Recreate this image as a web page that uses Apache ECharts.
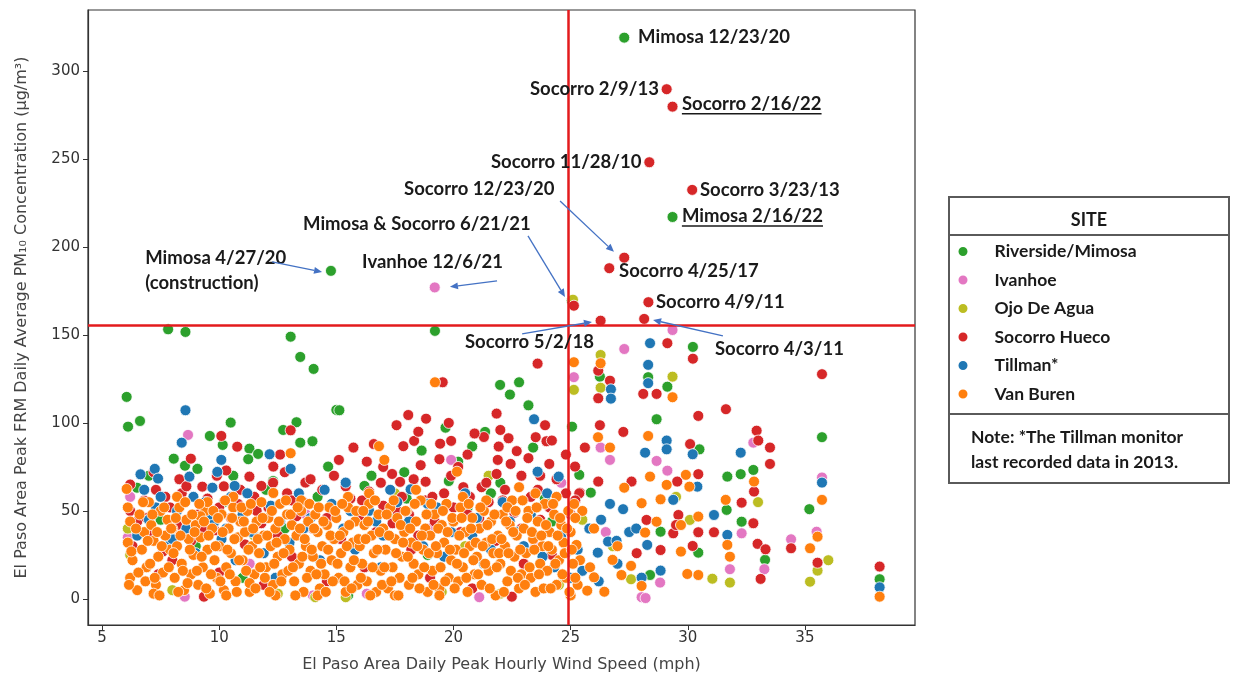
<!DOCTYPE html>
<html><head><meta charset="utf-8">
<script src="https://cdn.jsdelivr.net/npm/echarts@6/dist/echarts.min.js"></script>
<style>html,body{margin:0;padding:0;background:#fff}#c{width:1233px;height:685px}</style>
</head><body><div id="c"></div><script>
// ---------- DATA (wind speed mph, PM10 ug/m3) ----------
const siteNames = ['Riverside/Mimosa','Ivanhoe','Ojo De Agua','Socorro Hueco','Tillman*','Van Buren'];
const xTicks = [5,10,15,20,25,30,35];
const yTicks = [0,50,100,150,200,250,300];
const windThreshold = 24.9;
const pmThreshold = 155.7;

const mimosa = [
[27.29,318.9],[29.35,217],[25.05,169.5],[14.77,186.4],[7.82,153.2],[8.56,151.7],[13.05,149],[19.21,152.3],[13.46,137.5],[14.03,130.7],
[6.05,114.8],[6.11,97.9],[6.62,101.1],[10.49,100.2],[15.0,107.4],[13.3,100.4],[12.73,96],[9.6,92.6],[10.15,87.5],[11.29,85.4],
[11.66,82.4],[13.46,88.8],[13.98,89.6],[8.06,79.7],[11.24,79.4],[14.65,75.2],[8.54,75.7],[9.07,73.9],[6.49,63.2],[12.3,67],
[21.99,121.6],[22.8,123.1],[22.41,116.1],[15.13,107.2],[23.2,110],[19.66,97.3],[21.35,94.9],[18.64,84.3],[20.8,86.6],[23.4,86],
[16.2,64.2],[30.22,143.2],[26.25,126.3],[28.31,126],[29.13,120.6],[28.67,102.1],[25.06,97.9],[35.73,91.9],[30.5,85],[25.37,70.5],
[31.69,69.5],[32.26,70.9],[32.8,73.3],[25.86,60.4],[35.19,51],[38.19,11.2],[33.3,22.2],[32.3,43.9],[31.66,50.6],[30.45,26.3],
[28.84,38.2],[28.39,13.6],[7.5,45],[10.2,55],[12.8,40],[14.2,58],[15.5,2],[17.3,48],[18.9,25],[20.6,52],
[24.2,44],[11.0,12],[9.0,30],[22.0,66],[16.5,70],[19.8,67],[23.9,57],[12.0,62],[7.0,70],[17.9,72],
[20.2,78],[10.6,70],[21.6,60],[18.0,57]
];
const ivanhoe = [
[19.2,177],[29.35,152.8],[27.29,142],[25.14,126],[26.28,86],[26.68,79],[28.67,78.4],[29.13,72.9],[32.8,88.8],[19.9,79],
[8.67,93.2],[35.5,38.2],[34.41,33.9],[33.27,16.9],[31.8,16.9],[32.3,37.3],[28.82,9.3],[28.03,1],[8.53,1.3],[21.1,1],
[28.2,0.5],[6.2,58],[6.1,35],[11.3,20],[16.3,3],[23.5,30],[26.5,38],[30.1,45],[19.0,40],[13.7,48],
[35.73,69],[14.0,2],[24.6,66]
];
const ojoDeAgua = [
[26.28,138.6],[25.14,118.8],[26.28,120],[29.35,126.3],[30.09,44.9],[31.05,11.5],[31.8,9.3],[35.22,9.8],[35.54,16.1],[27.58,11.2],
[14.1,1],[15.4,1],[6.1,40],[6.2,25],[8.0,5],[12.5,3],[19.5,4],[22.0,3],[24.5,8],[26.8,30],
[25.5,45],[17.5,60],[21.5,70],[29.5,58],[33.0,55],[36.0,22],[11.5,36],[20.5,30],[25.1,170]
];
const socorro = [
[29.1,289.6],[29.35,279.7],[28.36,248.1],[30.19,232.4],[27.29,193.9],[26.65,187.9],[28.32,168.6],[26.28,158.1],[28.14,159.1],[25.14,166.6],
[23.59,133.7],[19.54,123.1],[29.13,145.3],[30.22,136.5],[35.73,127.7],[26.18,129.7],[26.18,114],[26.68,124],[28.1,116.5],[28.67,116.5],
[31.63,107.8],[30.45,104],[26.25,98.7],[27.25,94.9],[32.94,95.6],[33.01,90],[33.51,86],[33.51,76.7],[25.61,86],[30.1,88],
[25.19,75.2],[26.18,66.7],[30.45,70.9],[32.83,61],[25.4,60.4],[27.6,66.7],[29.55,66.7],[38.19,18.4],[35.54,20.6],[34.41,28.8],
[32.98,31.3],[33.32,28.2],[33.11,11.4],[32.8,43],[32.3,54.7],[31.12,37.9],[30.45,37.9],[30.21,30.1],[29.38,37.3],[28.84,27.8],
[28.24,44.9],[27.82,26],[29.6,47.7],[29.5,42],[25.37,60],
[13.05,95.8],[10.09,92.6],[10.77,86.5],[8.79,79.7],[12.31,75.2],[11.29,69.5],[13.68,66.1],[9.28,63.8],[11.8,64.2],[18.07,104.5],
[18.83,102.4],[17.57,98.7],[21.84,105.3],[23.91,98.7],[22.35,91.3],[23.51,91.9],[23.97,89.6],[18.32,89.8],[17.86,86.8],[19.9,89.8],
[19.43,88.2],[15.73,86],[21.93,86.6],[15.11,79],[18.6,76],[19.4,79.4],[21.89,79],[22.44,76.7],[24.09,76.7],[17.38,71],
[21.84,71],[17.72,66.5],[18.81,66.6],[20.42,63.5],[21.2,63.5],[9.35,1.3],[22.49,1.3],
[6.2,50],[6.3,30],[6.5,44],[6.8,56],[7.1,38],[7.3,62],[7.6,27],[7.9,52],[8.2,42],[8.4,60],
[8.8,33],[9.1,48],[9.5,57],[9.8,39],[10.2,64],[10.5,46],[10.8,54],[11.1,31],[11.5,58],[11.8,43],
[12.1,52],[12.5,36],[12.9,60],[13.3,47],[13.6,55],[14.0,40],[14.4,62],[14.8,50],[15.2,34],[15.6,57],
[16.0,45],[16.4,61],[16.7,38],[17.0,53],[17.4,43],[17.8,58],[18.1,48],[18.5,36],[18.8,56],[19.2,44],
[19.6,60],[20.0,52],[20.3,38],[20.7,58],[21.1,46],[21.5,55],[21.8,33],[22.2,62],[22.6,49],[22.9,40],
[23.3,58],[23.7,45],[24.1,52],[24.5,36],[24.8,60],[25.0,48],[13.1,24],[16.2,18],[19.0,12],[23.0,20],
[10.0,15],[8.0,22],[11.9,8],[20.8,6],[14.6,10],[7.4,14],[18.2,28],[24.2,25],
[18.5,95],[19.8,100],[20.6,82],[21.3,92],[22.7,84],[23.2,80],[17.0,75],[16.3,78],[14.9,70],[12.8,72],
[10.3,73],[9.9,70],[8.3,68],[7.2,72],[6.2,65],[23.7,70],[24.8,82],[22.0,96],[20.2,75],
[6.9,46],[7.7,58],[8.6,64],[9.3,40],[10.0,52],[10.9,62],[11.6,50],[12.3,66],[13.1,56],[13.9,68],
[14.6,46],[15.4,64],[16.1,56],[16.9,66],[17.6,50],[18.3,68],[19.1,58],[19.9,70],[20.6,48],[21.4,66],
[22.1,56],[22.9,70],[23.6,62],[24.4,68],[25.2,56],[12.6,82],[16.6,88],[20.9,94],[24.2,90]
];
const tillman = [
[8.56,107.2],[8.4,88.8],[12.15,82.2],[10.09,79],[13.05,73.9],[7.25,73.9],[6.64,70.8],[7.39,68.4],[9.92,72.2],[8.73,69.5],
[10.66,64.2],[9.71,63.2],[23.44,102.1],[23.59,72.3],[24.49,69.5],[15.4,66.1],[18.17,62.3],[28.39,145.3],[28.31,133],[28.31,122.6],
[26.72,119.1],[26.72,113.8],[29.1,90],[29.1,85],[28.18,83.1],[30.21,82.2],[32.26,83.1],[35.73,66.1],[30.41,63.8],[38.19,6.6],
[31.69,36.4],[31.12,47.7],[29.38,56.3],[28.84,16.1],[28.03,12.1],[26.16,26.3],[26.6,32.6],[27.24,51],[26.68,54],[28.27,30.7],
[26.96,33],
[6.5,36],[7.0,45],[7.5,58],[7.8,30],[8.2,50],[8.6,40],[9.0,26],[9.4,55],[9.8,44],[10.1,34],
[10.5,58],[11.0,48],[11.4,38],[11.9,26],[12.2,53],[12.6,44],[13.0,32],[13.4,60],[13.9,46],[14.3,22],
[14.8,54],[15.3,40],[15.8,28],[16.4,50],[17.0,36],[17.6,55],[18.1,44],[18.7,30],[19.3,52],[19.9,38],
[20.5,60],[21.0,46],[21.6,28],[22.1,55],[22.7,38],[23.3,48],[23.8,24],[24.3,18],[24.6,36],[25.0,12],
[24.0,60],[21.3,20],[16.9,18],[12.4,12],[10.7,22],[25.3,28],[25.8,40],[26.3,45],[27.5,38],[27.0,20],
[6.8,62],[7.3,52],[8.0,34],[8.9,58],[9.6,48],[10.3,40],[11.2,60],[12.0,46],[13.6,40],[14.5,62],
[15.6,50],[16.7,44],[17.3,62],[18.9,54],[19.6,24],[20.8,36],[22.4,44],[23.0,30],[24.8,26],[25.5,16],
[26.2,10],[27.8,40]
];
const vanBuren = [
[19.21,123.1],[13.05,82.8],[16.82,86.8],[17.05,79],[20.15,72.3],[22.8,63.5],[6.05,62.5],[12.31,60.2],[25.14,134.5],[26.28,133.9],
[29.35,114.6],[28.31,92.6],[26.17,91.9],[26.68,86],[28.39,69.5],[29.92,70.5],[32.83,66.7],[35.73,56.3],[27.29,63.2],[29.1,64.8],
[30.07,63.8],[38.19,1.3],[35.54,35.4],[35.22,28.8],[31.62,56.3],[31.69,30.7],[31.8,24],[30.45,46.8],[30.45,13.6],[29.98,14.2],
[29.71,26.9],[29.71,42],[28.67,43.9],[28.84,56.6],[28.03,7.4],[26.44,4.1],[25.71,4.7],[25.83,18],[28.03,54.4],[28.18,37.7],
[27.17,13.6],[27.58,18.8],[26.79,22.2],[26.0,12.3],[25.25,30.7],[25.5,50],[26.0,40],[27.0,30],[25.4,22],
[6.1,52],[6.2,44],[6.1,32],[6.3,22],[6.2,12],[6.6,48],[6.7,28],[6.9,18],[6.8,38],[6.5,5],
[7.0,55],[7.1,42],[7.2,33],[7.3,8],[7.4,24],[7.5,50],[7.6,15],[7.7,36],[7.8,45],[7.9,28],[7.2,3],
[8.0,40],[8.1,12],[8.2,30],[8.3,52],[8.4,20],[8.5,5],[8.6,45],[8.7,34],[8.8,14],[8.9,25],[8.2,58],
[9.0,42],[9.1,8],[9.2,35],[9.3,18],[9.4,50],[9.5,28],[9.6,3],[9.7,40],[9.8,22],[9.9,12],[9.5,55],[9.2,47],
[10.0,30],[10.1,48],[10.2,5],[10.3,18],[10.4,40],[10.5,26],[10.6,52],[10.7,10],[10.8,35],[10.9,44],[10.3,2],[10.6,58],
[11.0,22],[11.1,38],[11.2,50],[11.3,4],[11.4,30],[11.5,14],[11.6,44],[11.7,26],[11.8,55],[11.9,36],[11.3,9],
[12.0,18],[12.1,46],[12.2,30],[12.3,8],[12.4,40],[12.5,24],[12.6,54],[12.7,14],[12.8,34],[12.9,48],[12.4,2],
[13.0,28],[13.1,42],[13.2,10],[13.3,36],[13.4,20],[13.5,50],[13.6,4],[13.7,30],[13.8,44],[13.9,16],[13.5,56],
[14.0,24],[14.1,48],[14.2,38],[14.3,6],[14.4,30],[14.5,14],[14.6,42],[14.7,52],[14.8,22],[14.9,34],[14.2,2],
[15.0,46],[15.1,12],[15.2,26],[15.3,38],[15.4,4],[15.5,52],[15.6,18],[15.7,32],[15.8,44],[15.9,8],[15.5,58],
[16.0,30],[16.1,20],[16.2,42],[16.3,10],[16.4,54],[16.5,36],[16.6,26],[16.7,4],[16.8,48],[16.9,16],[16.4,60],
[17.0,40],[17.1,28],[17.2,6],[17.3,52],[17.4,18],[17.5,34],[17.6,46],[17.7,12],[17.8,24],[17.9,38],[17.5,2],
[18.0,50],[18.1,8],[18.2,32],[18.3,20],[18.4,44],[18.5,14],[18.6,56],[18.7,28],[18.8,40],[18.9,4],[18.4,62],
[19.0,36],[19.1,16],[19.2,48],[19.3,26],[19.4,6],[19.5,42],[19.6,32],[19.7,54],[19.8,12],[19.9,22],[19.4,2],
[20.0,44],[20.1,28],[20.2,10],[20.3,52],[20.4,18],[20.5,38],[20.6,4],[20.7,30],[20.8,46],[20.9,14],[20.4,58],
[21.0,24],[21.1,40],[21.2,8],[21.3,50],[21.4,32],[21.5,16],[21.6,44],[21.7,26],[21.8,2],[21.9,36],[21.4,56],
[22.0,20],[22.1,48],[22.2,30],[22.3,10],[22.4,42],[22.5,56],[22.6,24],[22.7,36],[22.8,6],[22.9,14],[22.3,52],
[23.0,40],[23.1,26],[23.2,50],[23.3,12],[23.4,34],[23.5,4],[23.6,44],[23.7,20],[23.8,30],[23.9,54],[23.5,60],
[24.0,16],[24.1,38],[24.2,28],[24.3,48],[24.4,8],[24.5,22],[24.6,42],[24.7,32],[24.8,12],[24.9,50],[24.4,58],
[25.0,38],[25.1,20],[25.2,46],[25.3,8],[25.0,2],
[6.15,8],[6.25,27],[6.45,40],[6.55,15],[6.75,55],[6.85,10],[6.95,33],
[7.05,20],[7.15,48],[7.25,12],[7.35,38],[7.45,2],[7.55,30],[7.65,52],[7.85,18],[7.95,40],
[8.05,26],[8.15,46],[8.25,4],[8.35,36],[8.45,16],[8.55,55],[8.65,9],[8.75,28],[8.85,48],[8.95,38],
[9.05,16],[9.15,54],[9.25,24],[9.35,44],[9.45,6],[9.55,36],[9.65,14],[9.75,50],[9.85,30],[9.95,46],
[10.05,10],[10.15,38],[10.25,56],[10.35,28],[10.45,14],[10.55,46],[10.65,34],[10.75,4],[10.85,22],[10.95,52],
[11.05,44],[11.15,16],[11.25,28],[11.35,54],[11.45,40],[11.55,6],[11.65,34],[11.75,18],[11.85,46],[11.95,12],
[12.05,36],[12.15,4],[12.25,50],[12.35,20],[12.45,32],[12.55,44],[12.65,10],[12.75,26],[12.85,56],[12.95,16],
[13.05,48],[13.15,18],[13.25,2],[13.35,52],[13.45,40],[13.55,24],[13.65,34],[13.75,12],[13.85,54],[13.95,28],
[14.05,40],[14.15,14],[14.25,52],[14.35,20],[14.45,44],[14.55,4],[14.65,28],[14.75,36],[14.85,10],[14.95,50],
[15.05,20],[15.15,36],[15.25,54],[15.35,10],[15.45,30],[15.55,42],[15.65,6],[15.75,22],[15.85,50],[15.95,34],
[16.05,12],[16.15,50],[16.25,34],[16.35,44],[16.45,2],[16.55,18],[16.65,56],[16.75,28],[16.85,38],[16.95,8],
[17.05,18],[17.15,48],[17.25,36],[17.35,10],[17.45,56],[17.55,26],[17.65,2],[17.75,42],[17.85,32],[17.95,50],
[18.05,24],[18.15,40],[18.25,12],[18.35,54],[18.45,30],[18.55,6],[18.65,36],[18.75,18],[18.85,48],[18.95,26],
[19.05,54],[19.15,8],[19.25,30],[19.35,40],[19.45,18],[19.55,50],[19.65,10],[19.75,38],[19.85,28],[19.95,46],
[20.05,6],[20.15,20],[20.25,36],[20.35,46],[20.45,26],[20.55,12],[20.65,54],[20.75,40],[20.85,22],[20.95,32],
[21.05,14],[21.15,52],[21.25,30],[21.35,20],[21.45,42],[21.55,6],[21.65,34],[21.75,48],[21.85,18],[21.95,26],
[22.05,34],[22.15,4],[22.25,44],[22.35,26],[22.45,16],[22.55,38],[22.65,50],[22.75,12],[22.85,28],[22.95,56],
[23.05,8],[23.15,46],[23.25,18],[23.35,38],[23.45,28],[23.55,52],[23.65,14],[23.75,36],[23.85,6],[23.95,42],
[24.05,30],[24.15,6],[24.25,54],[24.35,20],[24.45,36],[24.55,46],[24.65,14],[24.75,26],[24.85,40],[24.95,4],
[25.05,28],[25.15,54],[25.2,12]
];
const siteData = [mimosa, ivanhoe, ojoDeAgua, socorro, tillman, vanBuren];

// annotations: text anchored at a data coordinate
const notes = [
 {text:'Mimosa 12/23/20', at:[27.88,319.3], align:'left'},
 {text:'Socorro 2/9/13', at:[28.77,289.6], align:'right'},
 {text:'Socorro 2/16/22', at:[29.75,281.3], align:'left', underline:true},
 {text:'Socorro 11/28/10', at:[28.02,248.1], align:'right'},
 {text:'Socorro 3/23/13', at:[30.52,232.4], align:'left'},
 {text:'Mimosa 2/16/22', at:[29.75,217.6], align:'left', underline:true},
 {text:'Socorro 12/23/20', at:[17.89,233], align:'left'},
 {text:'Mimosa & Socorro 6/21/21', at:[13.58,213], align:'left'},
 {text:'Ivanhoe 12/6/21', at:[16.1,191.5], align:'left'},
 {text:'Mimosa 4/27/20\n(construction)', at:[6.84,186.6], align:'left'},
 {text:'Socorro 4/25/17', at:[27.07,186.4], align:'left'},
 {text:'Socorro 4/9/11', at:[28.64,168.8], align:'left'},
 {text:'Socorro 5/2/18', at:[20.49,146], align:'left'},
 {text:'Socorro 4/3/11', at:[31.16,142], align:'left'}
];
const arrows = [
 [[12.26,191.5],[14.39,185.8]],
 [[21.86,180.7],[19.85,177.3]],
 [[23.18,206.3],[24.76,171.6]],
 [[24.55,226.1],[26.85,197.2]],
 [[22.93,150.6],[25.91,157.4]],
 [[31.5,149.4],[28.52,158.5]]
];

// ---------- CHART ----------
const colors = ['#2ca02c','#e377c2','#bcbd22','#d62728','#1f77b4','#ff7f0e'];
const chart = echarts.init(document.getElementById('c'), null, {renderer:'canvas'});
const axisFont = {fontFamily:'DejaVu Sans', fontSize:15, color:'#333'};
const series = siteNames.map((n,i)=>({
  type:'scatter', name:n, data:siteData[i], symbolSize:11,
  itemStyle:{color:colors[i], borderColor:'#fff', borderWidth:0.8, opacity:1},
  emphasis:{disabled:true}
}));
series[series.length-1].markLine = {
  silent:true, symbol:'none', label:{show:false}, animation:false,
  lineStyle:{color:'#e31a1c', width:2.5, type:'solid'},
  data:[{xAxis:windThreshold},{yAxis:pmThreshold}]
};
const ann = {fontFamily:'Lato', fontWeight:'bold', fill:'#1a1a1a'};
chart.setOption({
  animation:false,
  backgroundColor:'#fff',
  grid:{left:88, top:10, width:827, height:615, show:true, borderColor:'#333', borderWidth:1.2},
  xAxis:{type:'value', min:4.4, max:39.7,
    name:'El Paso Area Daily Peak Hourly Wind Speed (mph)', nameLocation:'middle', nameGap:32,
    nameTextStyle:{fontFamily:'DejaVu Sans', fontSize:16, color:'#444'},
    axisLine:{show:true, onZero:false, lineStyle:{color:'#333', width:1.2}},
    axisTick:{show:true, length:5, customValues:xTicks, lineStyle:{color:'#333'}},
    axisLabel:Object.assign({customValues:xTicks, margin:6}, axisFont),
    splitLine:{show:false}},
  yAxis:{type:'value', min:-14.8, max:334.6,
    name:'El Paso Area Peak FRM Daily Average PM\u2081\u2080 Concentration (\u03bcg/m\u00b3)', nameLocation:'middle', nameGap:58,
    nameTextStyle:{fontFamily:'DejaVu Sans', fontSize:16, color:'#444'},
    axisLine:{show:true, onZero:false, lineStyle:{color:'#333', width:1.2}},
    axisTick:{show:true, length:5, customValues:yTicks, lineStyle:{color:'#333'}},
    axisLabel:Object.assign({customValues:yTicks, margin:8}, axisFont),
    splitLine:{show:false}},
  legend:{orient:'vertical', left:956.5, top:242.5, itemGap:10.5, itemWidth:11, itemHeight:11, icon:'circle',
    data:siteNames, selectedMode:false, padding:0,
    textStyle:{fontFamily:'Lato', fontWeight:'bold', fontSize:17.5, color:'#1a1a1a', lineHeight:18, padding:[0,0,0,21]}},
  series:series
});

function textWidth(t, font){
  const c=document.createElement('canvas').getContext('2d'); c.font=font; return c.measureText(t).width;
}
const annSize = 18.5;
const els = [];
notes.forEach(a=>{
  const p = chart.convertToPixel({xAxisIndex:0,yAxisIndex:0}, a.at);
  els.push({type:'text', x:p[0], y:p[1], z:100, silent:true,
    style:Object.assign({text:a.text, fontSize:annSize, align:a.align, verticalAlign:'middle', lineHeight:25}, ann)});
  if(a.underline){
    const w = textWidth(a.text, 'bold '+annSize+'px Lato');
    els.push({type:'line', z:100, silent:true, shape:{x1:p[0], y1:p[1]+10, x2:p[0]+w, y2:p[1]+10},
      style:{stroke:'#1a1a1a', lineWidth:1.4}});
  }
});
arrows.forEach(ar=>{
  const a = chart.convertToPixel({xAxisIndex:0,yAxisIndex:0}, ar[0]);
  const b = chart.convertToPixel({xAxisIndex:0,yAxisIndex:0}, ar[1]);
  const dx=b[0]-a[0], dy=b[1]-a[1], L=Math.hypot(dx,dy), ux=dx/L, uy=dy/L;
  const hl=8, hw=3.5;
  const bx=b[0]-ux*hl, by=b[1]-uy*hl;
  els.push({type:'line', z:100, silent:true, shape:{x1:a[0],y1:a[1],x2:bx,y2:by}, style:{stroke:'#4472c4', lineWidth:1.3}});
  els.push({type:'polygon', z:100, silent:true, shape:{points:[[b[0],b[1]],[bx-uy*hw,by+ux*hw],[bx+uy*hw,by-ux*hw]]}, style:{fill:'#4472c4'}});
});
// legend frame
const frame = {stroke:'#5a5a5a', lineWidth:2};
els.push({type:'rect', silent:true, shape:{x:949,y:197,width:280,height:286}, style:Object.assign({fill:'none'}, frame)});
els.push({type:'line', silent:true, shape:{x1:949,y1:235,x2:1229,y2:235}, style:frame});
els.push({type:'line', silent:true, shape:{x1:949,y1:414,x2:1229,y2:414}, style:frame});
els.push({type:'text', silent:true, x:1089, y:220, style:Object.assign({text:'SITE', fontSize:18, align:'center', verticalAlign:'middle'}, ann)});
els.push({type:'text', silent:true, x:971, y:450, style:Object.assign({text:'Note: *The Tillman monitor\nlast recorded data in 2013.', fontSize:17.5, lineHeight:24.5, align:'left', verticalAlign:'middle'}, ann)});
chart.setOption({graphic:els});
</script></body></html>
